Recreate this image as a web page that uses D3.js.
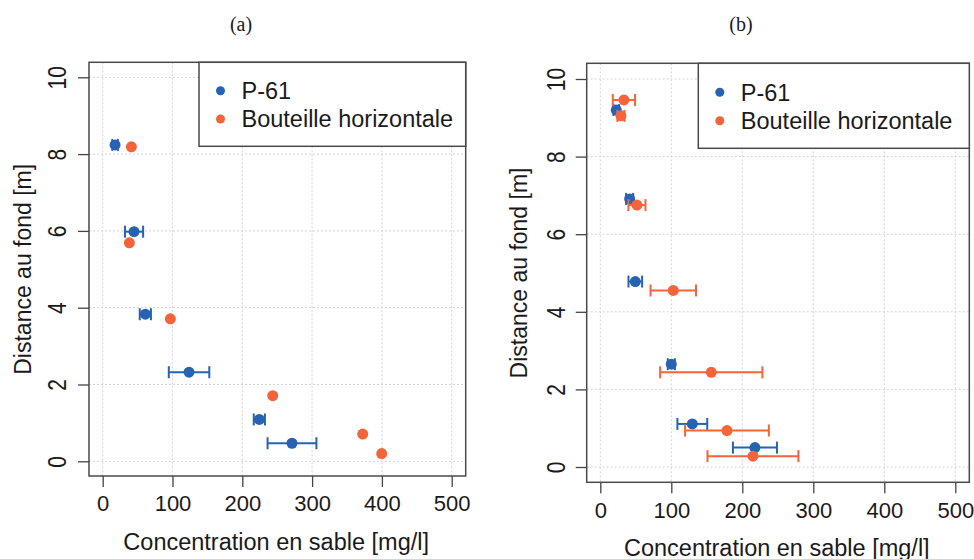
<!DOCTYPE html>
<html><head><meta charset="utf-8">
<script src="https://cdn.jsdelivr.net/npm/d3@7"></script>
<style>
body{margin:0;background:#fff;}
text{font-family:"Liberation Sans",Arial,sans-serif;fill:#1a1a1a;}
</style></head>
<body><svg id="c" width="974" height="559"></svg>
<script>
// Panel (a)
const aP61X = [17.7, 44.9, 61.1, 123.7, 224.4, 271.2];
const aP61Y = [8.24, 5.98, 3.83, 2.32, 1.09, 0.47];
const aP61Err = [4, 13, 8, 29, 8, 35];
const aBotX = [41.1, 38.2, 96.9, 243.6, 372.5, 399.7];
const aBotY = [8.19, 5.69, 3.71, 1.71, 0.71, 0.20];
const aBotErr = [0, 0, 0, 0, 0, 0];
// Panel (b)
const bP61X = [22.5, 41.3, 49.3, 100.0, 129.6, 217.8];
const bP61Y = [9.20, 6.91, 4.78, 2.65, 1.11, 0.50];
const bP61Err = [4, 5, 9.6, 5, 21, 31];
const bBotX = [33.3, 29.1, 51.6, 102.8, 156.3, 178.4, 215.0];
const bBotY = [9.46, 9.05, 6.75, 4.55, 2.44, 0.94, 0.28];
const bBotErr = [15.7, 5, 12, 32, 72, 59, 64];

const xTicks = [0, 100, 200, 300, 400, 500];
const yTicks = [0, 2, 4, 6, 8, 10];
const seriesNames = ["P-61", "Bouteille horizontale"];
const colors = ["#2862b3", "#f4633a"];
const xLabel = "Concentration en sable [mg/l]";
const yLabel = "Distance au fond [m]";
const titles = ["(a)", "(b)"];

const svg = d3.select("#c");

function panel(cfg) {
  const g = svg.append("g");
  const x = d3.scaleLinear().domain([0, 500]).range([cfg.x0, cfg.x500]);
  const y = d3.scaleLinear().domain([0, 10]).range([cfg.y0, cfg.y10]);
  // grid
  g.selectAll(".gx").data(xTicks).join("line")
    .attr("x1", d => x(d)).attr("x2", d => x(d))
    .attr("y1", cfg.boxT).attr("y2", cfg.boxB)
    .attr("stroke", "#d4d4d4").attr("stroke-width", 1).attr("stroke-dasharray", "2,2");
  g.selectAll(".gy").data(yTicks).join("line")
    .attr("y1", d => y(d)).attr("y2", d => y(d))
    .attr("x1", cfg.boxL).attr("x2", cfg.boxR)
    .attr("stroke", "#d4d4d4").attr("stroke-width", 1).attr("stroke-dasharray", "2,2");
  // axes via d3
  const xa = g.append("g").attr("transform", `translate(0,${cfg.boxB})`)
    .call(d3.axisBottom(x).tickValues(xTicks).tickSize(11).tickPadding(6).tickFormat(d3.format("d")));
  xa.select(".domain").remove();
  xa.selectAll("line").attr("stroke", "#444").attr("stroke-width", 1.3);
  xa.selectAll("text").attr("font-size", 22).attr("font-family", "Liberation Sans, Arial, sans-serif")
    .attr("fill", "#1a1a1a").attr("dy", null).attr("y", cfg.xTickBase - cfg.boxB);
  const ya = g.append("g").attr("transform", `translate(${cfg.boxL},0)`)
    .call(d3.axisLeft(y).tickValues(yTicks).tickSize(11).tickFormat(d3.format("d")));
  ya.select(".domain").remove();
  ya.selectAll("line").attr("stroke", "#444").attr("stroke-width", 1.3);
  ya.selectAll("text").attr("font-size", 21).attr("font-family", "Liberation Sans, Arial, sans-serif")
    .attr("fill", "#1a1a1a").attr("x", null).attr("dy", null).attr("y", null)
    .attr("text-anchor", "middle")
    .attr("transform", `translate(${cfg.yTickBase - cfg.boxL},0) rotate(-90) scale(1,1.2)`);
  // box
  g.append("rect").attr("x", cfg.boxL).attr("y", cfg.boxT)
    .attr("width", cfg.boxR - cfg.boxL).attr("height", cfg.boxB - cfg.boxT)
    .attr("fill", "none").attr("stroke", "#4a4a4a").attr("stroke-width", 1.5);
  // series
  cfg.series.forEach((s, si) => {
    const col = colors[si];
    const pts = s.x.map((v, i) => ({x: v, y: s.y[i], e: s.e[i]}));
    const eg = g.append("g");
    pts.filter(p => p.e > 0).forEach(p => {
      const cy = y(p.y);
      eg.append("line").attr("x1", x(p.x - p.e)).attr("x2", x(p.x + p.e))
        .attr("y1", cy).attr("y2", cy).attr("stroke", col).attr("stroke-width", 2);
      [p.x - p.e, p.x + p.e].forEach(v => {
        eg.append("line").attr("x1", x(v)).attr("x2", x(v))
          .attr("y1", cy - 6).attr("y2", cy + 6).attr("stroke", col).attr("stroke-width", 2);
      });
    });
    g.append("g").selectAll("circle").data(pts).join("circle")
      .attr("cx", d => x(d.x)).attr("cy", d => y(d.y)).attr("r", 5.5).attr("fill", col);
  });
  // legend
  g.append("rect").attr("x", cfg.legL).attr("y", cfg.boxT)
    .attr("width", cfg.boxR - cfg.legL).attr("height", cfg.legB - cfg.boxT)
    .attr("fill", "#fff").attr("stroke", "#4a4a4a").attr("stroke-width", 1.5);
  seriesNames.forEach((n, i) => {
    const cy = cfg.legY[i];
    g.append("circle").attr("cx", cfg.legL + 21.5).attr("cy", cy).attr("r", 4.5).attr("fill", colors[i]);
    g.append("text").attr("x", cfg.legL + 42.5).attr("y", cy + 8.3).attr("font-size", 23.5).text(n);
  });
  // labels
  g.append("text").attr("x", (cfg.x0 + cfg.x500) / 2 - 1).attr("y", cfg.xLabBase)
    .attr("text-anchor", "middle").attr("font-size", 23.5).text(xLabel);
  g.append("text").attr("text-anchor", "middle").attr("font-size", 23)
    .attr("transform", `translate(${cfg.yLabBase},${(cfg.y0 + cfg.y10) / 2}) rotate(-90)`).text(yLabel);
  g.append("text").attr("x", cfg.titleX).attr("y", 31).attr("text-anchor", "middle")
    .attr("font-size", 20).style("font-family", "Liberation Serif, Times New Roman, serif").text(cfg.title);
}

panel({
  x0: 102.7, x500: 451.7, y0: 461.3, y10: 77.3,
  boxL: 89, boxR: 465.7, boxT: 62.3, boxB: 476,
  xTickBase: 511, yTickBase: 66, xLabBase: 550, yLabBase: 31,
  legL: 199, legB: 146.3, legY: [90.7, 119],
  titleX: 241, title: titles[0],
  series: [{x: aP61X, y: aP61Y, e: aP61Err}, {x: aBotX, y: aBotY, e: aBotErr}]
});
panel({
  x0: 600.3, x500: 955.3, y0: 467, y10: 79,
  boxL: 586.7, boxR: 969.3, boxT: 63.3, boxB: 482.3,
  xTickBase: 518, yTickBase: 564.5, xLabBase: 556, yLabBase: 526.6,
  legL: 698.3, legB: 148.3, legY: [92.3, 120.7],
  titleX: 741, title: titles[1],
  series: [{x: bP61X, y: bP61Y, e: bP61Err}, {x: bBotX, y: bBotY, e: bBotErr}]
});
</script></body></html>
